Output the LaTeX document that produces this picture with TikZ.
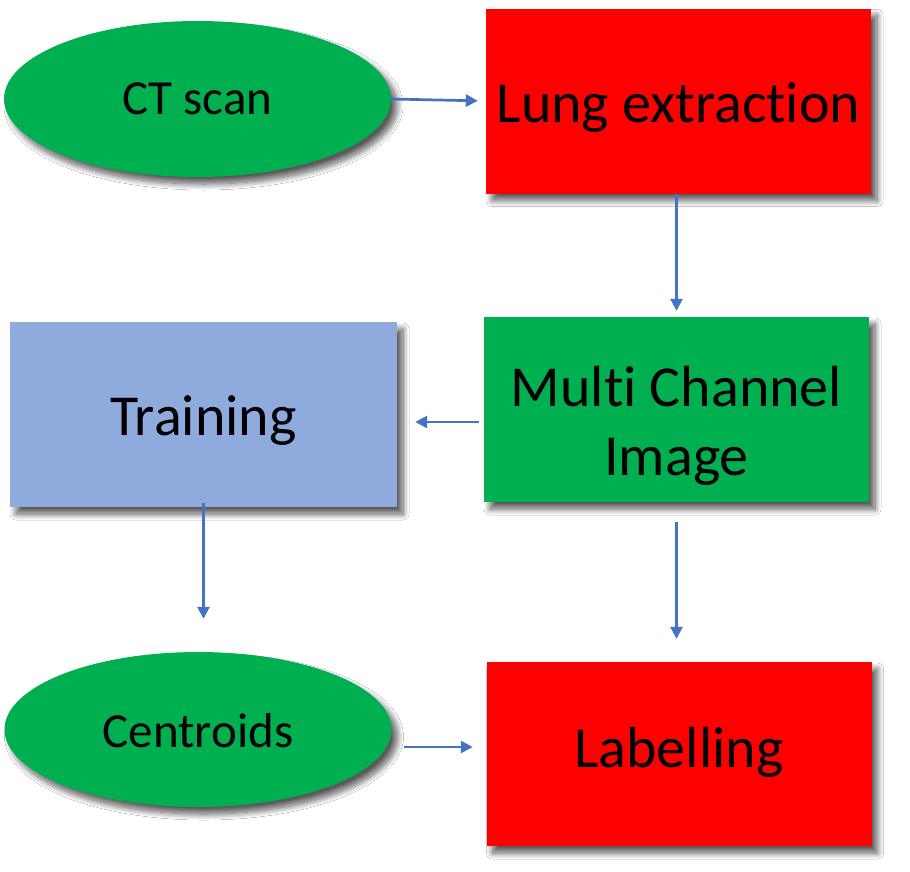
\documentclass[tikz,border=0pt]{standalone}
\usepackage{fontspec}
\setmainfont{Carlito}[Ligatures={NoCommon,NoContextual}]
\usetikzlibrary{shapes.geometric,arrows.meta,shadows.blur}
\definecolor{boxgreen}{HTML}{00B050}
\definecolor{boxred}{HTML}{FF0000}
\definecolor{boxblue}{HTML}{8FAADC}
\definecolor{arrowblue}{HTML}{4472C4}
\tikzset{
  softshadow/.style={blur shadow={shadow xshift=6pt,shadow yshift=-7pt,shadow blur radius=6pt,shadow blur steps=12,shadow opacity=65}},
  oval/.style={ellipse,fill=boxgreen,draw=none,inner sep=0pt,minimum width=387pt,minimum height=156pt,softshadow,
    font=\fontsize{49}{59}\selectfont},
  stepbox/.style={rectangle,draw=none,inner sep=0pt,minimum width=385pt,minimum height=185pt,softshadow,
    font=\fontsize{58}{69}\selectfont},
  flow/.style={draw=arrowblue,line width=2.7pt,-{Triangle[length=12pt,width=12pt]}},
}
\begin{document}
\begin{tikzpicture}[x=1pt,y=-1pt]
\useasboundingbox[fill=white] (0,0) rectangle (910,871);
\node[oval,text height=30pt,text depth=0pt] (ct) at (197.5,99) {CT scan};
\node[stepbox,fill=boxred,text height=42pt,text depth=0pt] (lung) at (678.5,101) {Lung extraction};
\node[stepbox,fill=boxgreen,align=center,text height=131pt,text depth=0pt] (multi) at (676.5,409.5) {Multi Channel\\Image};
\node[stepbox,fill=boxblue,minimum width=387pt,text height=41pt,text depth=0pt] (train) at (203.5,414.5) {Training};
\node[oval,minimum height=155pt,text height=35pt,text depth=0pt] (cent) at (198,729.5) {Centroids};
\node[stepbox,fill=boxred,minimum height=184pt,text height=26pt,text depth=0pt] (label) at (679,754) {Labelling};

\draw[flow,shorten >=8pt] (ct.east) -- (lung.west);
\draw[flow,shorten >=6pt] (lung.south -| multi.north) -- (multi.north);
\draw[flow,shorten <=5pt,shorten >=18pt] ([yshift=-12.5pt]multi.west) -- ([yshift=-12.5pt]multi.west -| train.east);
\draw[flow,shorten <=-4pt,shorten >=33pt] (train.south) -- (train.south |- cent.north);
\draw[flow,shorten <=20pt,shorten >=23pt] (multi.south) -- (multi.south |- label.north);
\draw[flow,shorten <=12pt,shorten >=13.5pt] ([yshift=-17.5pt]cent.east) -- ([yshift=-17.5pt]cent.east -| label.west);
\end{tikzpicture}
\end{document}
